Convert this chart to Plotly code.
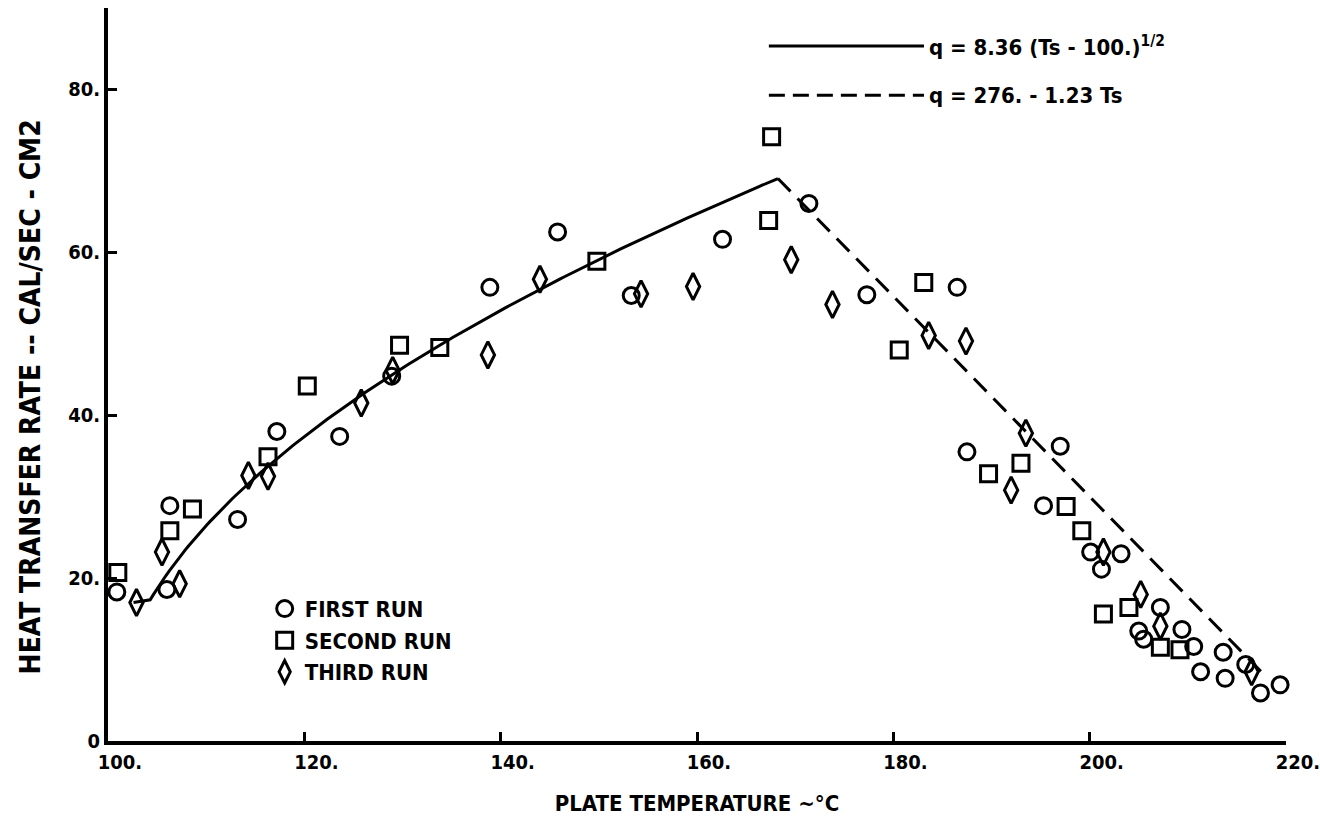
import numpy as np
import plotly.graph_objects as go

# ---------------- data ----------------
first_T = [100.9, 106.0, 106.3, 113.2, 117.2, 123.6, 128.9, 138.9, 145.8, 153.3,
           162.6, 171.4, 177.3, 186.5, 187.5, 197.0, 195.3, 200.1, 201.2, 203.2,
           207.2, 205.0, 205.5, 209.4, 210.6, 211.3, 213.6, 213.8, 215.9, 217.4, 219.4]
first_q = [18.3, 18.6, 28.9, 27.2, 38.0, 37.4, 44.8, 55.7, 62.5, 54.7,
           61.6, 66.0, 54.8, 55.7, 35.5, 36.2, 28.9, 23.2, 21.1, 23.0,
           16.4, 13.5, 12.5, 13.7, 11.6, 8.5, 10.9, 7.7, 9.4, 5.9, 6.9]

second_T = [101.0, 106.3, 108.6, 116.3, 120.3, 129.7, 133.8, 149.8, 167.3, 167.6,
            180.6, 183.1, 189.7, 193.0, 197.6, 199.2, 201.4, 204.0, 207.2, 209.2]
second_q = [20.7, 25.8, 28.5, 34.9, 43.6, 48.6, 48.3, 58.9, 63.9, 74.2,
            48.0, 56.3, 32.8, 34.1, 28.8, 25.8, 15.6, 16.4, 11.5, 11.2]

third_T = [102.9, 105.5, 107.3, 114.3, 116.3, 125.8, 129.0, 138.7, 144.0, 154.3,
           159.6, 169.6, 173.8, 183.6, 187.4, 192.0, 193.5, 201.4, 205.2, 207.2, 216.5]
third_q = [17.0, 23.2, 19.3, 32.6, 32.5, 41.5, 45.5, 47.4, 56.7, 54.9,
           55.8, 59.1, 53.6, 49.8, 49.1, 30.8, 37.8, 23.2, 18.0, 14.1, 8.5]

# fitted relations
sqrt_coef, sqrt_T0 = 8.36, 100.0          # q = 8.36 (Ts - 100.)^1/2
lin_a, lin_b = 276.0, 1.23                # q = 276. - 1.23 Ts
solid_start_T = 104.3
dash_end_T = 217.5
lead_in_T = [102.6]
lead_in_q = [17.0]

x_ticks = [100, 120, 140, 160, 180, 200, 220]
x_ticklabels = ["100.", "120.", "140.", "160.", "180.", "200.", "220."]
y_ticks = [0, 20, 40, 60, 80]
y_ticklabels = ["0", "20.", "40.", "60.", "80."]

# intersection of the two fits
T_grid = np.linspace(150, 190, 40001)
diff = sqrt_coef * np.sqrt(T_grid - sqrt_T0) - (lin_a - lin_b * T_grid)
T_peak = float(T_grid[np.argmin(np.abs(diff))])

T_solid = np.linspace(solid_start_T, T_peak, 200)
q_solid = sqrt_coef * np.sqrt(T_solid - sqrt_T0)
T_solid = np.concatenate([lead_in_T, T_solid])
q_solid = np.concatenate([lead_in_q, q_solid])

T_dash = np.array([T_peak, dash_end_T])
q_dash = lin_a - lin_b * T_dash

FONT = "DejaVu Sans Condensed, Liberation Sans Narrow, Arial Narrow, sans-serif"

fig = go.Figure()
fig.add_trace(go.Scatter(x=T_solid, y=q_solid, mode="lines",
                         line=dict(color="black", width=3), showlegend=False,
                         hoverinfo="skip", cliponaxis=False))
fig.add_trace(go.Scatter(x=T_dash, y=q_dash, mode="lines",
                         line=dict(color="black", width=3, dash="18px,10px"),
                         showlegend=False, hoverinfo="skip", cliponaxis=False))

mk = dict(color="black", size=16, line=dict(color="black", width=3))
fig.add_trace(go.Scatter(x=first_T, y=first_q, mode="markers", name="FIRST RUN",
                         marker=dict(symbol="circle-open", **mk), cliponaxis=False))
fig.add_trace(go.Scatter(x=second_T, y=second_q, mode="markers", name="SECOND RUN",
                         marker=dict(symbol="square-open", **mk), cliponaxis=False))
fig.add_trace(go.Scatter(x=third_T, y=third_q, mode="markers", name="THIRD RUN",
                         marker=dict(symbol="diamond-tall-open", color="black", size=19,
                                     line=dict(color="black", width=3)),
                         cliponaxis=False))

# equation key (top right)
fig.add_shape(type="line", xref="paper", yref="paper", x0=0.561, x1=0.6927,
              y0=0.948, y1=0.948, line=dict(color="black", width=3))
fig.add_shape(type="line", xref="paper", yref="paper", x0=0.561, x1=0.6927,
              y0=0.881, y1=0.881, line=dict(color="black", width=3, dash="16px,8px"))
eq_font = dict(family=FONT, size=22, color="black", weight="bold")
fig.add_annotation(xref="paper", yref="paper", x=0.695, y=0.948, xanchor="left",
                   yanchor="middle", showarrow=False,
                   text="q = 8.36 (Ts - 100.)<sup>1/2</sup>", font=eq_font)
fig.add_annotation(xref="paper", yref="paper", x=0.695, y=0.881, xanchor="left",
                   yanchor="middle", showarrow=False,
                   text="q = 276. - 1.23 Ts", font=eq_font)

# y-axis title
fig.add_annotation(xref="paper", yref="paper", x=-0.0654, y=0.47, xanchor="center",
                   yanchor="middle", showarrow=False, textangle=-90,
                   text="HEAT TRANSFER RATE -- CAL/SEC - CM2",
                   font=dict(family=FONT, size=28, color="black", weight="bold"))

tick_font = dict(family=FONT, size=20, color="black", weight="bold")

fig.update_layout(
    template="none",
    width=1320, height=822,
    margin=dict(l=108, r=34, t=8, b=81),
    paper_bgcolor="white", plot_bgcolor="white",
    font=dict(family=FONT, color="black"),
    showlegend=True,
    legend=dict(x=0.133, y=0.209, xanchor="left", yanchor="top",
                bgcolor="rgba(0,0,0,0)", borderwidth=0,
                font=dict(family=FONT, size=22, color="black", weight="bold"),
                itemwidth=30, tracegroupgap=0, itemsizing="trace"),
    xaxis=dict(range=[100, 220], tickvals=x_ticks, ticktext=x_ticklabels,
               automargin=False,
               showgrid=False, zeroline=False, showline=True, linecolor="black",
               linewidth=4, ticks="inside", ticklen=9, tickwidth=3, tickcolor="black",
               tickfont=tick_font, ticklabelshift=12, ticklabeloverflow="allow",
               title=dict(text="PLATE TEMPERATURE ~°C",
                          font=dict(family=FONT, size=22, color="black", weight="bold"),
                          standoff=24)),
    yaxis=dict(range=[0, 90], tickvals=y_ticks, ticktext=y_ticklabels,
               automargin=False,
               showgrid=False, zeroline=False, showline=True, linecolor="black",
               linewidth=4, ticks="inside", ticklen=9, tickwidth=3, tickcolor="black",
               tickfont=tick_font, ticklabeloverflow="allow"),
)

fig.write_html("out.html")
